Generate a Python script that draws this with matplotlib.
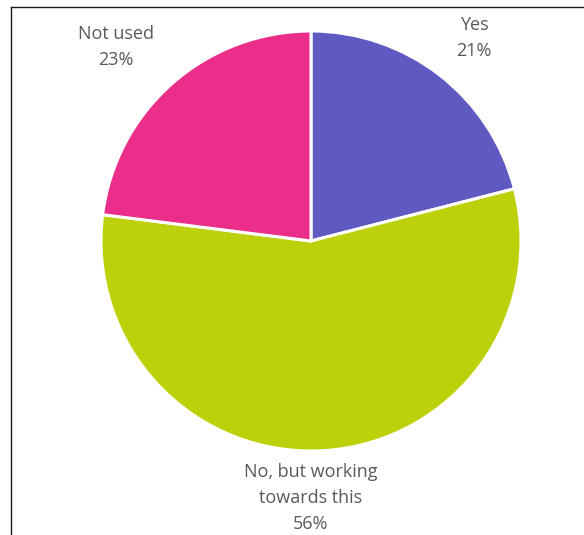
import matplotlib
matplotlib.use("Agg")
import matplotlib.pyplot as plt
from matplotlib.lines import Line2D

categories = ["Yes", "No, but working\ntowards this", "Not used"]
shares = [21, 56, 23]
colors = ["#5F59C2", "#BDD10B", "#EA2E8A"]

W, H = 584, 535
fig = plt.figure(figsize=(W / 100, H / 100), dpi=100)
ax = fig.add_axes([0, 0, 1, 1])

cx, cy, r = 311, H - 241, 210
ax.pie(shares, colors=colors, startangle=90, counterclock=False,
       center=(cx, cy), radius=r, frame=True,
       wedgeprops=dict(edgecolor="white", linewidth=2.2))
ax.set_xlim(0, W)
ax.set_ylim(0, H)
ax.set_aspect("equal")
ax.axis("off")

# chart frame (left and top edges)
ax.add_line(Line2D([11, 11], [0, H - 7], color="#1a1a1a", lw=1.0))
ax.add_line(Line2D([11, W], [H - 7, H - 7], color="#1a1a1a", lw=1.0))

label_pos = [(474, H - 38), (311, H - 498), (116, H - 47)]
for cat, val, (lx, ly) in zip(categories, shares, label_pos):
    ax.text(lx, ly, f"{cat}\n{val}%", ha="center", va="center",
            fontsize=13, color="#595959", family="Open Sans",
            linespacing=1.6)

fig.savefig("out.png", dpi=100)
